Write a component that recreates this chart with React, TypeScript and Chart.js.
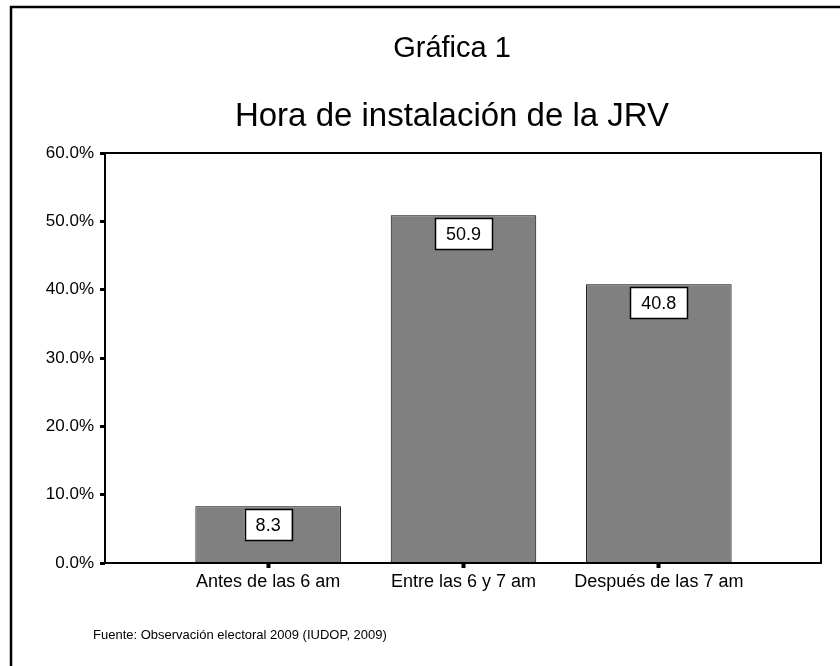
import React, { useEffect, useRef } from "react";
import { Chart, registerables } from "chart.js";

Chart.register(...registerables);

const categories = ["Antes de las 6 am", "Entre las 6 y 7 am", "Después de las 7 am"];
const values = [8.3, 50.9, 40.8];
const yTicks = [0, 10, 20, 30, 40, 50, 60];
const titleText = "Gráfica 1";
const subtitleText = "Hora de instalación de la JRV";
const sourceText = "Fuente: Observación electoral 2009 (IUDOP, 2009)";

const FONT = "'Liberation Sans', Arial, sans-serif";

const decorPlugin = {
  id: "decor",
  beforeDraw(chart: any) {
    const ctx = chart.ctx;
    ctx.save();
    ctx.fillStyle = "#ffffff";
    ctx.fillRect(0, 0, chart.width, chart.height);
    // outer frame (left + top visible)
    ctx.strokeStyle = "#000";
    ctx.lineWidth = 2.5;
    ctx.beginPath();
    ctx.moveTo(11, chart.height + 5);
    ctx.lineTo(11, 7);
    ctx.lineTo(chart.width + 5, 7);
    ctx.stroke();
    // titles
    ctx.fillStyle = "#000";
    ctx.textAlign = "center";
    ctx.textBaseline = "middle";
    ctx.font = `29px ${FONT}`;
    ctx.fillText(titleText, 452, 49);
    ctx.font = `33px ${FONT}`;
    ctx.fillText(subtitleText, 452, 117);
    // source
    ctx.textAlign = "left";
    ctx.font = `13px ${FONT}`;
    ctx.fillText(sourceText, 93, 635);
    ctx.restore();
  },
  afterDatasetsDraw(chart: any) {
    const ctx = chart.ctx;
    const a = chart.chartArea;
    ctx.save();
    ctx.strokeStyle = "#000";
    ctx.lineWidth = 2;
    ctx.strokeRect(a.left, a.top, a.right - a.left, a.bottom - a.top);
    // value boxes
    const meta = chart.getDatasetMeta(0);
    ctx.font = `18px ${FONT}`;
    ctx.textAlign = "center";
    ctx.textBaseline = "middle";
    meta.data.forEach((bar: any, i: number) => {
      const txt = values[i].toFixed(1);
      const w = ctx.measureText(txt).width + 22;
      const h = 31;
      const x = bar.x - w / 2;
      const y = bar.y + 3;
      ctx.fillStyle = "#fff";
      ctx.fillRect(x, y, w, h);
      ctx.lineWidth = 1.5;
      ctx.strokeStyle = "#000";
      ctx.strokeRect(Math.round(x) + 0.5, Math.round(y) + 0.5, Math.round(w), h);
      ctx.fillStyle = "#000";
      ctx.fillText(txt, bar.x, y + h / 2 + 1);
    });
    ctx.restore();
  },
};

export default function App() {
  const ref = useRef<HTMLCanvasElement>(null);
  useEffect(() => {
    if (!ref.current) return;
    const chart = new Chart(ref.current, {
      type: "bar",
      data: {
        datasets: [
          {
            data: values.map((v, i) => ({ x: i, y: v })),
            backgroundColor: "#808080",
            borderColor: "#000",
            borderWidth: 1,
            borderSkipped: false,
            barPercentage: 0.745,
            categoryPercentage: 1,
          },
        ],
      },
      options: {
        animation: false,
        responsive: false,
        devicePixelRatio: 1,
        layout: { padding: { left: 0, top: 153, right: 19, bottom: 0 } },
        plugins: { legend: { display: false }, tooltip: { enabled: false } },
        scales: {
          x: {
            type: "linear",
            offset: false,
            min: -0.835,
            max: 2.83,
            afterBuildTicks: (axis: any) => {
              axis.ticks = categories.map((_, i) => ({ value: i }));
            },
            afterFit: (axis: any) => {
              axis.height = 103;
            },
            ticks: {
              callback: (v: any) => categories[v as number] ?? "",
              color: "#000",
              font: { family: FONT, size: 18 },
              padding: 3,
              maxRotation: 0,
              autoSkip: false,
            },
            grid: {
              offset: false,
              drawOnChartArea: false,
              drawTicks: true,
              tickLength: 5,
              tickWidth: 4,
              tickColor: "#000",
            },
            border: { display: false },
          },
          y: {
            min: 0,
            max: 60,
            afterBuildTicks: (axis: any) => {
              axis.ticks = yTicks.map((v) => ({ value: v }));
            },
            afterFit: (axis: any) => {
              axis.width = 105;
            },
            ticks: {
              callback: (v: any) => Number(v).toFixed(1) + "%",
              color: "#000",
              font: { family: FONT, size: 17 },
              padding: 6,
            },
            grid: {
              drawOnChartArea: false,
              drawTicks: true,
              tickLength: 5,
              tickWidth: 3,
              tickColor: "#000",
            },
            border: { display: false },
          },
        },
      },
      plugins: [decorPlugin],
    });
    return () => chart.destroy();
  }, []);
  return (
    <div style={{ position: "absolute", left: 0, top: 0, width: 840, height: 666 }}>
      <canvas ref={ref} width={840} height={666} style={{ display: "block" }} />
    </div>
  );
}
